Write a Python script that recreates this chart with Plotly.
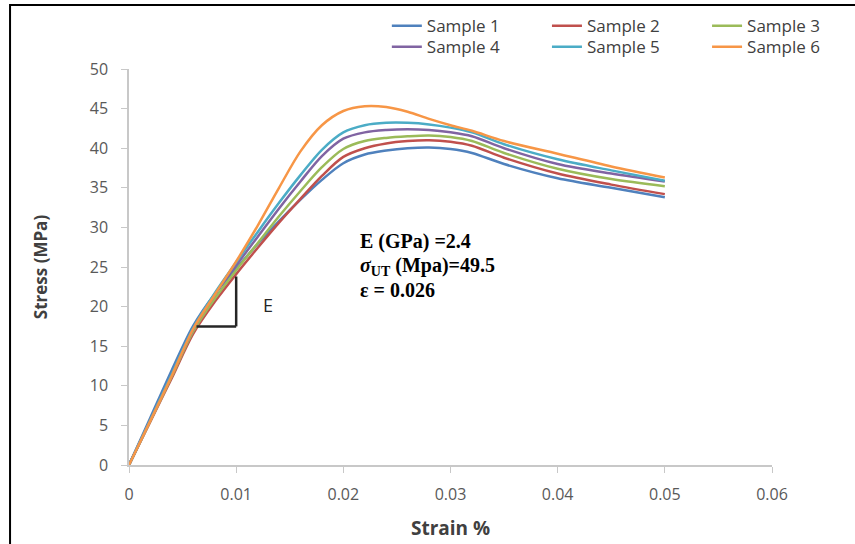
import plotly.graph_objects as go

strain = [0, 0.002, 0.004, 0.006, 0.008, 0.010, 0.012, 0.014, 0.016, 0.018, 0.020,
          0.022, 0.024, 0.026, 0.028, 0.030, 0.032, 0.035, 0.040, 0.045, 0.050]

sample1 = [0, 6.0, 12.0, 17.6, 21.6, 24.8, 27.9, 30.8, 33.5, 36.0, 38.1,
           39.2, 39.7, 40.0, 40.1, 39.9, 39.4, 38.0, 36.2, 35.0, 33.8]
sample2 = [0, 5.5, 11.0, 16.6, 20.6, 24.1, 27.4, 30.6, 33.6, 36.5, 38.9,
           40.0, 40.6, 40.9, 41.0, 40.8, 40.3, 38.8, 36.8, 35.4, 34.2]
sample3 = [0, 5.6, 11.2, 16.9, 21.0, 24.6, 28.0, 31.4, 34.6, 37.6, 39.9,
           40.9, 41.3, 41.5, 41.6, 41.4, 40.9, 39.4, 37.4, 36.1, 35.2]
sample4 = [0, 5.7, 11.4, 17.2, 21.5, 25.2, 28.8, 32.4, 35.8, 39.0, 41.2,
           42.0, 42.3, 42.4, 42.3, 42.0, 41.5, 40.0, 38.0, 36.8, 35.8]
sample5 = [0, 5.7, 11.5, 17.3, 21.7, 25.6, 29.4, 33.1, 36.6, 39.8, 42.0,
           42.9, 43.2, 43.2, 43.0, 42.6, 42.0, 40.5, 38.6, 37.2, 35.9]
sample6 = [0, 5.6, 11.3, 17.2, 21.5, 25.7, 30.2, 35.0, 39.6, 42.9, 44.7,
           45.3, 45.2, 44.6, 43.7, 42.9, 42.2, 40.9, 39.3, 37.7, 36.3]

names = ["Sample 1", "Sample 2", "Sample 3", "Sample 4", "Sample 5", "Sample 6"]
series = [sample1, sample2, sample3, sample4, sample5, sample6]
colors = ["#4F81BD", "#C0504D", "#9BBB59", "#8064A2", "#4BACC6", "#F79646"]

x_ticks = [0, 0.01, 0.02, 0.03, 0.04, 0.05, 0.06]
y_ticks = [0, 5, 10, 15, 20, 25, 30, 35, 40, 45, 50]

# modulus triangle (annotation)
tri_x0, tri_x1 = 0.0063, 0.010
tri_y0, tri_y1 = 17.5, 23.8

# legend grid positions (paper coordinates): 3 columns x 2 rows
leg_cols = [0.401, 0.650, 0.899]
leg_rows = [1.108, 1.055]

fig = go.Figure()
legend_layout = {}
for i, (n, s, c) in enumerate(zip(names, series, colors)):
    key = "legend" if i == 0 else f"legend{i + 1}"
    fig.add_trace(go.Scatter(x=strain, y=s, name=n, mode="lines",
                             line=dict(color=c, width=2.5, shape="spline", smoothing=0.9),
                             legend=key))
    legend_layout[key] = dict(
        x=leg_cols[i % 3], y=leg_rows[i // 3], xanchor="left", yanchor="middle",
        orientation="h", bgcolor="rgba(0,0,0,0)", borderwidth=0,
        font=dict(family="Open Sans", size=17, color="#404040"))

axis_col = "#C8C8C8"
tick_font = dict(family="Open Sans", size=16, color="#595959")

fig.update_layout(
    width=855, height=544,
    margin=dict(l=129, r=83, t=69, b=79, autoexpand=False),
    paper_bgcolor="white", plot_bgcolor="white",
    showlegend=True,
    xaxis=dict(range=[0, 0.06], tickvals=x_ticks, ticktext=[str(v) for v in x_ticks],
               showgrid=False, zeroline=False, showline=True, linecolor=axis_col, linewidth=1.5,
               ticks="outside", ticklen=6, tickcolor=axis_col, tickfont=tick_font,
               ticklabelstandoff=8,
               title=dict(text="<b>Strain %</b>", font=dict(family="Open Sans", size=19, color="#404040"),
                          standoff=18)),
    yaxis=dict(range=[0, 50], tickvals=y_ticks, showgrid=False, zeroline=False,
               showline=True, linecolor=axis_col, linewidth=1.5,
               ticks="outside", ticklen=6, tickcolor=axis_col, tickfont=tick_font,
               ticklabelstandoff=10,
               title=dict(text="<b>Stress (MPa)</b>", font=dict(family="Open Sans", size=17, color="#404040"),
                          standoff=38)),
    **legend_layout,
)

# frame around the figure (top and left visible)
fig.add_shape(type="rect", xref="paper", yref="paper", x0=-0.185, x1=1.3, y0=-0.3, y1=1.1616,
              line=dict(color="black", width=2), fillcolor="rgba(0,0,0,0)", layer="below")

# modulus triangle
fig.add_shape(type="line", x0=tri_x0, x1=tri_x1, y0=tri_y0, y1=tri_y0,
              line=dict(color="#262626", width=2.5))
fig.add_shape(type="line", x0=tri_x1, x1=tri_x1, y0=tri_y0, y1=tri_y1,
              line=dict(color="#262626", width=2.5))
fig.add_annotation(x=0.013, y=20.2, text="E", showarrow=False,
                   font=dict(family="Open Sans", size=18, color="#262626"))

serif = dict(family="Liberation Serif", size=20, color="black")
fig.add_annotation(x=0.0214, y=28.2, xanchor="left", showarrow=False, font=serif,
                   text="<b>E (GPa) =2.4</b>")
fig.add_annotation(x=0.0214, y=25.1, xanchor="left", showarrow=False, font=serif,
                   text="<b><i>σ</i><sub>UT</sub> (Mpa)=49.5</b>")
fig.add_annotation(x=0.0214, y=22.1, xanchor="left", showarrow=False, font=serif,
                   text="<b>ε = 0.026</b>")

fig.write_html("out.html")
